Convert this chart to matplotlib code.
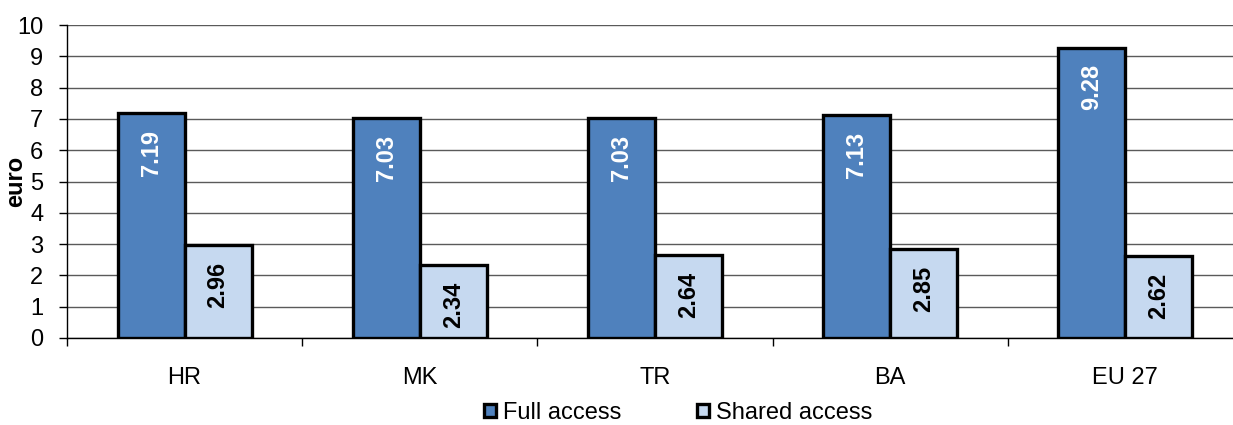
import numpy as np
import matplotlib
matplotlib.use("Agg")
import matplotlib.pyplot as plt
from matplotlib.ticker import FixedLocator

plt.rcParams['font.family'] = ['Liberation Sans', 'DejaVu Sans']

countries = ["HR", "MK", "TR", "BA", "EU 27"]
full_access = [7.19, 7.03, 7.03, 7.13, 9.28]
shared_access = [2.96, 2.34, 2.64, 2.85, 2.62]

FULL_COLOR = '#4F81BD'
SHARED_COLOR = '#C6D9F0'
BAR_W = 0.285
FS = 17

fig = plt.figure(figsize=(12.33, 4.25), dpi=100)
ax = fig.add_axes([67 / 1233, 87 / 425, 1176 / 1233, 313 / 425])

x = np.arange(len(countries))
b1 = ax.bar(x - BAR_W / 2, full_access, BAR_W, color=FULL_COLOR,
            edgecolor='black', linewidth=2.4, label='Full access', zorder=3)
b2 = ax.bar(x + BAR_W / 2, shared_access, BAR_W, color=SHARED_COLOR,
            edgecolor='black', linewidth=2.4, label='Shared access', zorder=3)

# value labels, rotated, just inside the top of each bar
for bars, vals, col in ((b1, full_access, 'white'), (b2, shared_access, 'black')):
    for rect, v in zip(bars, vals):
        ax.annotate(f"{v:.2f}", (rect.get_x() + rect.get_width() / 2, v),
                    xytext=(0, -12), textcoords='offset points',
                    rotation=90, ha='center', va='top', color=col,
                    fontsize=17, fontweight='bold', zorder=4)

ax.set_ylim(0, 10)
ax.set_xlim(-0.5, len(countries) - 0.5)
ax.set_yticks(range(0, 11))
ax.yaxis.grid(True, color='#5a5a5a', linewidth=1, zorder=0)
ax.tick_params(axis='y', labelsize=FS, length=6, width=1, pad=11)

ax.set_xticks(x)
ax.set_xticklabels(countries)
ax.tick_params(axis='x', which='major', length=0, labelsize=FS, pad=21)
ax.xaxis.set_minor_locator(FixedLocator(np.arange(-0.5, len(countries), 1.0)))
ax.tick_params(axis='x', which='minor', length=6, width=1, direction='out')

for s in ('top', 'right'):
    ax.spines[s].set_visible(False)
ax.spines['left'].set_linewidth(1)
ax.spines['bottom'].set_linewidth(1)

ax.set_ylabel('euro', fontsize=FS, fontweight='bold')
ax.yaxis.set_label_coords(-0.034, 0.5)

fig.legend(handles=[b1, b2], loc='center', bbox_to_anchor=(678 / 1233, 1 - 413 / 425),
           ncol=2, frameon=False, fontsize=FS, handlelength=0.5, handleheight=0.5,
           handletextpad=0.3, columnspacing=3.2)

fig.savefig('out.png', dpi=100)
